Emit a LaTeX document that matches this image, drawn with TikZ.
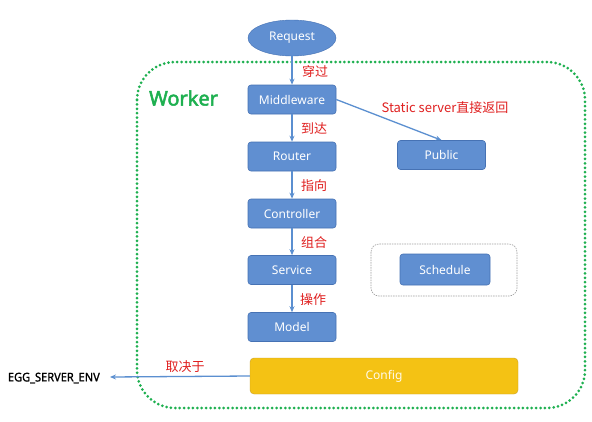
\documentclass[tikz,border=0pt]{standalone}
\usepackage{fontspec}
\setmainfont{Noto Sans}
\newfontfamily\cjk{Noto Sans CJK SC}
\newfontfamily\wfont[FakeBold=2.5]{Noto Sans}
\newfontfamily\efont[FakeBold=1.2]{Noto Sans}
\usetikzlibrary{arrows.meta,shapes.geometric}
\definecolor{boxblue}{RGB}{96,143,209}
\definecolor{boxedge}{RGB}{70,114,180}
\definecolor{arrblue}{RGB}{91,143,208}
\definecolor{wgreen}{RGB}{30,176,80}
\definecolor{lred}{RGB}{224,32,32}
\definecolor{cfg}{RGB}{244,194,20}
\definecolor{cfgedge}{RGB}{200,160,40}
\tikzset{
  blk/.style={draw=boxedge, fill=boxblue, rounded corners=3pt, minimum width=88pt, minimum height=29pt, text=white, font=\fontsize{12}{14}\selectfont, inner sep=0pt, line width=0.6pt},
  lab/.style={text=lred, font=\cjk\fontsize{13}{15}\selectfont, inner sep=1pt},
  arr/.style={draw=arrblue, line width=1.3pt, -{Stealth[length=6pt,width=5pt]}},
}
\begin{document}
\begin{tikzpicture}[x=1pt,y=-1pt]
\useasboundingbox[fill=white] (0,0) rectangle (592,421);
% worker frame
\draw[wgreen, line width=3pt, line cap=round, dash pattern=on 0pt off 4.4pt, rounded corners=38pt] (137,62) rectangle (585,408);
\node[text=wgreen, font=\wfont\fontsize{20}{24}\selectfont, anchor=west, inner sep=0pt] (wk) at (149,98) {Worker};
% schedule frame
\draw[gray!75, dash pattern=on 1.5pt off 1pt, line width=0.6pt, rounded corners=8pt] (371,244) rectangle (517,296);
\node[ellipse, draw=boxedge, fill=boxblue, minimum width=88pt, minimum height=36pt, text=white, font=\fontsize{12}{14}\selectfont, inner sep=0pt] (req) at (292,38) {Request};
\node[blk] (mw) at (292,99.5) {Middleware};
\node[blk] (rt) at (292,156.5) {Router};
\node[blk] (ct) at (292,213.5) {Controller};
\node[blk] (sv) at (292,270) {Service};
\node[blk] (md) at (292,327) {Model};
\node[blk] (pb) at (441.5,155) {Public};
\node[blk, minimum width=90pt, minimum height=31pt] (sc) at (445,269.5) {Schedule};
\node[draw=cfgedge, fill=cfg, rounded corners=4pt, minimum width=268pt, minimum height=36pt, text=white!92!cfg, font=\fontsize{12}{14}\selectfont, inner sep=0pt] (cf) at (384,376) {Config};
\node[font=\efont\fontsize{12}{14}\selectfont, inner sep=0pt, anchor=east, xscale=0.92] (env) at (100,378) {EGG\_SERVER\_ENV};
\coordinate (envend) at (110,377);
\draw[arr] (req) -- (mw);
\draw[arr] (mw) -- (rt);
\draw[arr] (rt) -- (ct);
\draw[arr] (ct) -- (sv);
\draw[arr] (sv) -- (md);
\draw[arr] (mw.east) -- (pb.north);
\draw[arr] (cf.west) -- (envend);
\node[lab] (l1) at (315,72) {穿过};
\node[lab] (l2) at (314,128) {到达};
\node[lab] (l3) at (314,186) {指向};
\node[lab] (l4) at (314,243) {组合};
\node[lab] (l5) at (313,300) {操作};
\node[lab] (l6) at (445,108) {Static server直接返回};
\node[lab] (l7) at (185,367) {取决于};
\end{tikzpicture}
\end{document}
